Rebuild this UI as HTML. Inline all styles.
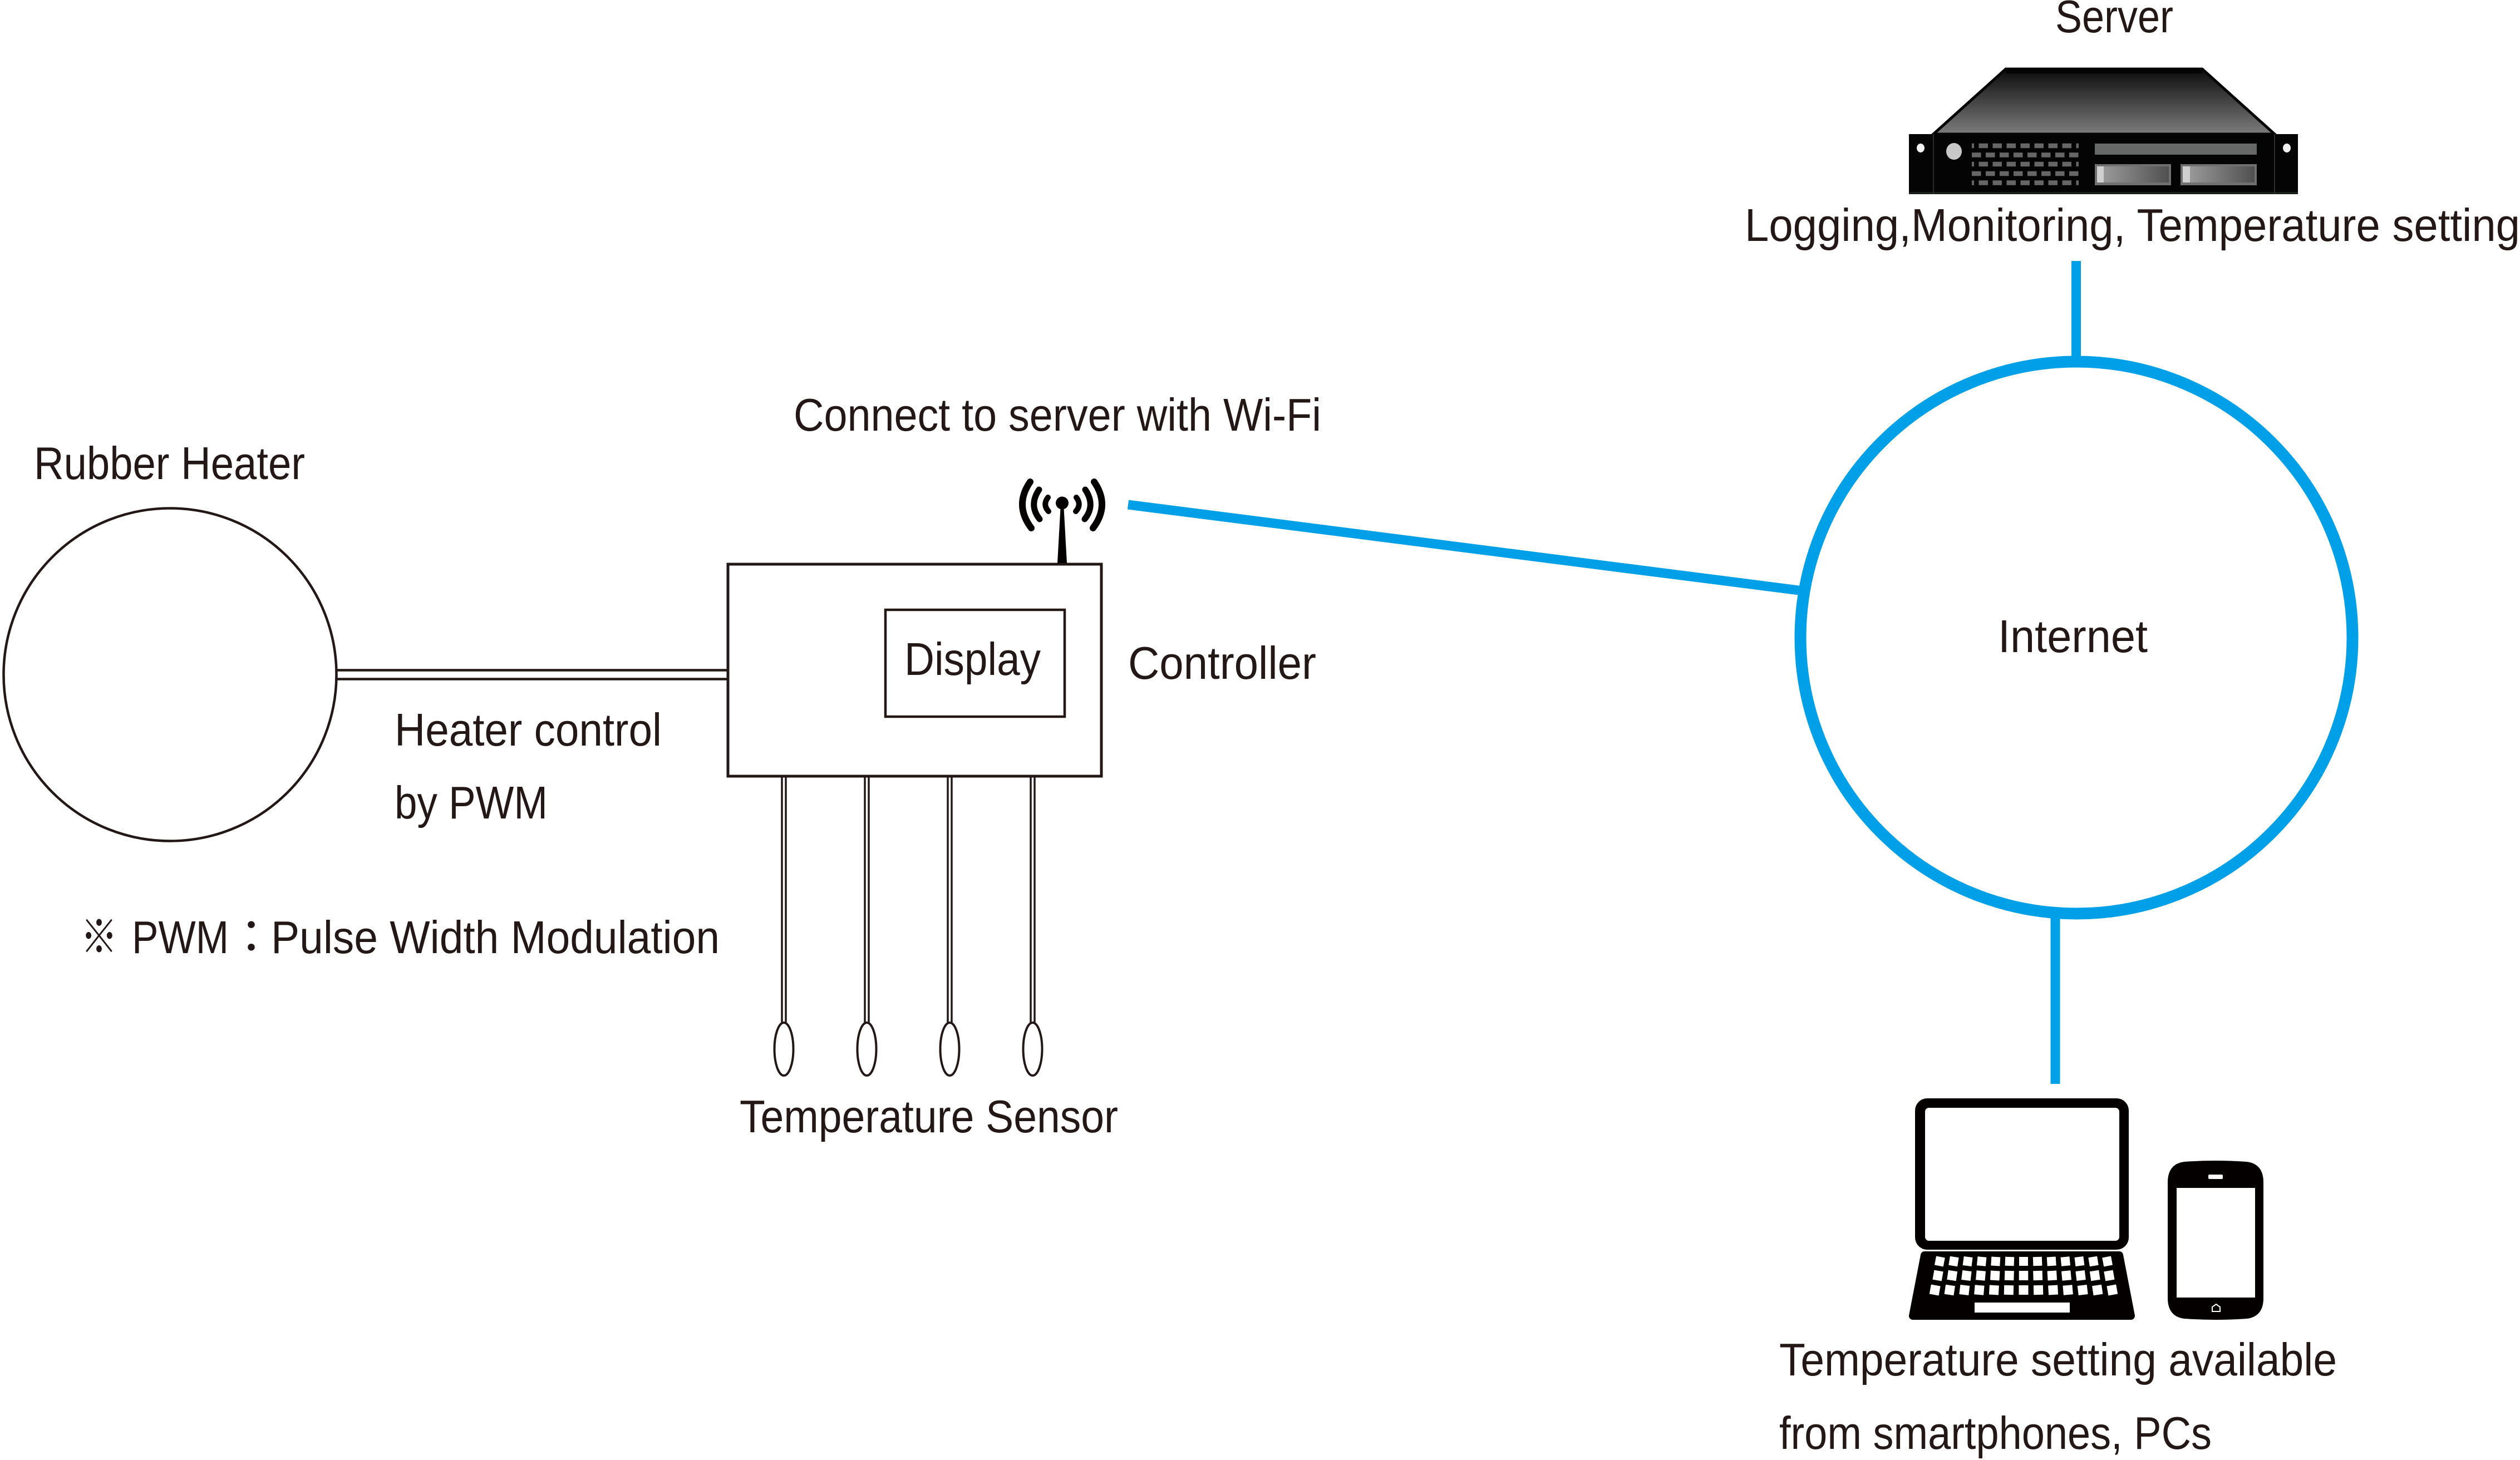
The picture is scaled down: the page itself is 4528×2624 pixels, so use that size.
<!DOCTYPE html>
<html><head><meta charset="utf-8"><style>
html,body{margin:0;padding:0;background:#fff}
svg{display:block}
text{font-family:"Liberation Sans","Noto Sans CJK JP",sans-serif;font-size:83px;fill:#231815}
</style></head><body>
<svg width="4528" height="2624" viewBox="0 0 4528 2624" xmlns="http://www.w3.org/2000/svg">
<defs>
<linearGradient id="top" x1="0" y1="0" x2="0" y2="1"><stop offset="0" stop-color="#0c0c0c"/><stop offset="1" stop-color="#7c7c7c"/></linearGradient>
<linearGradient id="bay" x1="0" y1="0" x2="1" y2="0"><stop offset="0" stop-color="#a0a0a0"/><stop offset="1" stop-color="#505050"/></linearGradient>
</defs>

<!-- Heater -->
<circle cx="305.500" cy="1212.500" r="299" fill="none" stroke="#231815" stroke-width="4.500"/>
<line x1="606" y1="1204.500" x2="1306" y2="1204.500" stroke="#231815" stroke-width="4.500"/>
<line x1="606" y1="1220.500" x2="1306" y2="1220.500" stroke="#231815" stroke-width="4.500"/>

<!-- Controller -->
<rect x="1308" y="1014" width="671" height="381" fill="#fff" stroke="#231815" stroke-width="5"/>
<rect x="1591" y="1096" width="322" height="192" fill="none" stroke="#231815" stroke-width="4.500"/>

<!-- Sensors -->
<g fill="none" stroke="#231815" stroke-width="3.500">
<path d="M1405 1397V1840M1412 1397V1840"/>
<path d="M1554 1397V1840M1561 1397V1840"/>
<path d="M1703 1397V1840M1710 1397V1840"/>
<path d="M1852 1397V1840M1859 1397V1840"/>
<g stroke-width="4" fill="#fff">
<ellipse cx="1408.500" cy="1885.500" rx="17" ry="47.500"/>
<ellipse cx="1557.500" cy="1885.500" rx="17" ry="47.500"/>
<ellipse cx="1706.500" cy="1885.500" rx="17" ry="47.500"/>
<ellipse cx="1855.500" cy="1885.500" rx="17" ry="47.500"/>
</g>
</g>

<!-- Antenna -->
<circle cx="1908.500" cy="904" r="11.500" fill="#040000"/>
<polygon points="1906,904 1911,904 1917,1012 1900,1012" fill="#040000"/>
<g fill="none" stroke="#040000" stroke-linecap="round">
<path d="M1851 866Q1822 908 1853 949" stroke-width="12"/>
<path d="M1867 880Q1848 908 1868 933" stroke-width="11"/>
<path d="M1883 894Q1873 907 1884 919" stroke-width="10"/>
<path d="M1966 866Q1995 908 1964 949" stroke-width="12"/>
<path d="M1950 880Q1969 908 1949 933" stroke-width="11"/>
<path d="M1934 894Q1944 907 1933 919" stroke-width="10"/>
</g>

<!-- Internet -->
<circle cx="3731" cy="1146" r="496" fill="none" stroke="#00a0e9" stroke-width="21"/>
<line x1="3730.500" y1="469" x2="3730.500" y2="645" stroke="#00a0e9" stroke-width="17"/>
<line x1="3693" y1="1640" x2="3693" y2="1948" stroke="#00a0e9" stroke-width="17"/>
<line x1="2027" y1="907" x2="3232" y2="1061" stroke="#00a0e9" stroke-width="17"/>

<!-- Server -->
<rect x="3430" y="241" width="699" height="108" fill="#040404"/>
<polygon points="3474,241 3604,124 3957,124 4087,241" fill="url(#top)" stroke="#050505" stroke-width="5" stroke-linejoin="miter"/>
<rect x="3604" y="124" width="353" height="8" fill="#050505"/>
<rect x="3430" y="345" width="699" height="4" fill="#1a1f1c"/>
<rect x="3473" y="241" width="2" height="108" fill="#2a2e2c"/>
<rect x="4086" y="241" width="2" height="108" fill="#2a2e2c"/>
<ellipse cx="3451" cy="266" rx="7" ry="8" fill="#f2f2f2"/>
<ellipse cx="4109" cy="266" rx="7" ry="8" fill="#f2f2f2"/>
<ellipse cx="3511" cy="272" rx="14" ry="15" fill="#c8c8c8"/>
<g stroke="#666" stroke-width="8.500" fill="none">
<line x1="3543" y1="262" x2="3735" y2="262" stroke-dasharray="16.500 8.500" stroke-dashoffset="12.500"/>
<line x1="3543" y1="278.500" x2="3735" y2="278.500" stroke-dasharray="16.500 8.500"/>
<line x1="3543" y1="295" x2="3735" y2="295" stroke-dasharray="16.500 8.500" stroke-dashoffset="12.500"/>
<line x1="3543" y1="312" x2="3735" y2="312" stroke-dasharray="16.500 8.500"/>
<line x1="3543" y1="328.500" x2="3735" y2="328.500" stroke-dasharray="16.500 8.500" stroke-dashoffset="12.500"/>
</g>
<rect x="3764" y="258" width="291" height="20" fill="#666867"/>
<rect x="3764" y="295" width="137" height="38" fill="#707070"/>
<rect x="3918" y="295" width="137" height="38" fill="#707070"/>
<rect x="3768" y="299" width="129" height="29" fill="url(#bay)"/>
<rect x="3922" y="299" width="129" height="29" fill="url(#bay)"/>
<rect x="3768" y="299" width="12" height="29" fill="#cfcfcf"/>
<rect x="3922" y="299" width="13" height="29" fill="#cfcfcf"/>

<!-- Laptop -->
<rect x="3441" y="1974" width="384" height="272" rx="22" fill="#040000"/>
<rect x="3459" y="1991" width="349" height="239" rx="7" fill="#fff"/>
<polygon points="3458,2256 3808,2256 3829,2365 3437,2365" fill="#040000" stroke="#040000" stroke-width="14" stroke-linejoin="round"/>
<g fill="none" stroke="#fff">
<path stroke-width="16" d="M3486.900 2259L3483.900 2275M3511.800 2259L3509.200 2275M3536.600 2259L3534.600 2275M3561.500 2259L3559.900 2275M3586.300 2259L3585.300 2275M3611.200 2259L3610.600 2275M3636 2259V2275M3660.800 2259L3661.400 2275M3685.700 2259L3686.700 2275M3710.500 2259L3712.100 2275M3735.400 2259L3737.400 2275M3760.200 2259L3762.800 2275M3785.100 2259L3788.100 2275"/>
<path stroke-width="16.500" d="M3483.600 2284L3480.600 2301M3509 2284L3506.500 2301M3534.400 2284L3532.400 2301M3559.800 2284L3558.300 2301M3585.200 2284L3584.200 2301M3610.600 2284L3610.100 2301M3636 2284V2301M3661.400 2284L3661.900 2301M3686.800 2284L3687.800 2301M3712.200 2284L3713.700 2301M3737.600 2284L3739.600 2301M3763 2284L3765.500 2301M3788.400 2284L3791.400 2301"/>
<path stroke-width="17" d="M3478.200 2310L3475.200 2327M3504.500 2310L3502 2327M3530.800 2310L3528.800 2327M3557.100 2310L3555.600 2327M3583.400 2310L3582.400 2327M3609.700 2310L3609.200 2327M3636 2310V2327M3662.300 2310L3662.800 2327M3688.600 2310L3689.600 2327M3714.900 2310L3716.400 2327M3741.200 2310L3743.200 2327M3767.500 2310L3770 2327M3793.800 2310L3796.800 2327"/>
</g>
<rect x="3548" y="2341" width="171" height="18" fill="#fff"/>

<!-- Phone -->
<path d="M3895 2125C3895 2100 3908 2090 3925 2088Q3981 2084 4037 2088C4054 2090 4067 2100 4067 2125V2333C4067 2358 4054 2368 4037 2370Q3981 2374 3925 2370C3908 2368 3895 2358 3895 2333Z" fill="#040000"/>
<rect x="3911" y="2135" width="141" height="197" fill="#fff"/>
<rect x="3968" y="2111" width="26" height="8" rx="2" fill="#fff"/>
<path d="M3975 2357V2349L3982 2344L3989 2349V2357Z" fill="none" stroke="#fff" stroke-width="2"/>

<!-- Labels -->
<text x="3693" y="58" textLength="212" lengthAdjust="spacingAndGlyphs">Server</text>
<text x="3135" y="433" textLength="1393" lengthAdjust="spacingAndGlyphs">Logging,Monitoring, Temperature setting</text>
<text x="1426" y="774" textLength="948" lengthAdjust="spacingAndGlyphs">Connect to server with Wi-Fi</text>
<text x="61" y="861" textLength="487" lengthAdjust="spacingAndGlyphs">Rubber Heater</text>
<text x="1625" y="1213" textLength="245" lengthAdjust="spacingAndGlyphs">Display</text>
<text x="2027" y="1220" textLength="338" lengthAdjust="spacingAndGlyphs">Controller</text>
<text x="709" y="1340" textLength="480" lengthAdjust="spacingAndGlyphs">Heater control</text>
<text x="709" y="1471" textLength="275" lengthAdjust="spacingAndGlyphs">by PWM</text>
<text x="145" y="1713" textLength="66" lengthAdjust="spacingAndGlyphs">※</text>
<text x="237" y="1713" textLength="174" lengthAdjust="spacingAndGlyphs">PWM</text>
<text x="410" y="1713" textLength="83" lengthAdjust="spacingAndGlyphs">：</text>
<text x="487" y="1713" textLength="806" lengthAdjust="spacingAndGlyphs">Pulse Width Modulation</text>
<text x="1329" y="2035" textLength="680" lengthAdjust="spacingAndGlyphs">Temperature Sensor</text>
<text x="3590" y="1172" textLength="269" lengthAdjust="spacingAndGlyphs">Internet</text>
<text x="3197" y="2472" textLength="1002" lengthAdjust="spacingAndGlyphs">Temperature setting available</text>
<text x="3197" y="2604" textLength="777" lengthAdjust="spacingAndGlyphs">from smartphones, PCs</text>
</svg>
</body></html>
